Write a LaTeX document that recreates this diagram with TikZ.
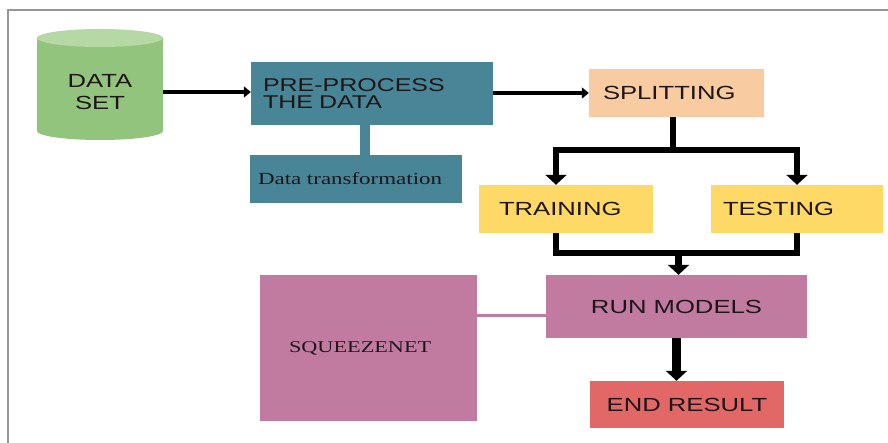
\documentclass[tikz,border=0pt]{standalone}
\usepackage{fontspec}
\usepackage{tikz}
\usetikzlibrary{arrows.meta,positioning,calc}
\newfontfamily\flowsans[FakeStretch=1.35]{Liberation Sans}
\newfontfamily\flowserif[FakeStretch=1.35]{Liberation Serif}
\definecolor{framegray}{RGB}{150,150,150}
\definecolor{datagreen}{RGB}{146,196,125}
\definecolor{datagreenlt}{RGB}{182,216,164}
\definecolor{prepteal}{RGB}{72,133,150}
\definecolor{splitpeach}{RGB}{248,203,160}
\definecolor{trainyellow}{RGB}{255,217,102}
\definecolor{runmauve}{RGB}{194,123,160}
\definecolor{endred}{RGB}{226,104,104}
\definecolor{textdark}{RGB}{30,22,25}

\begin{document}
\begin{tikzpicture}[x=1pt,y=-1pt,
    flowbox/.style={inner ysep=0pt,text=textdark,
      font=\flowsans\fontsize{19}{22}\selectfont},
    thinarrow/.style={line width=3.5pt,-{Triangle[length=7pt,width=11pt]}},
    thickline/.style={line width=6.5pt},
    thickarrow/.style={line width=6.5pt,-{Triangle[length=10pt,width=21pt]}}]
  \useasboundingbox (0,0) rectangle (888,443);
  % --- frame (only top and left edges are in view) ---
  \draw[framegray,line width=2.5pt] (8,443) -- (8,10) -- (888,10);
  % --- data set cylinder: rx=63, ry=9 ---
  \fill[datagreen] (37,38) -- (37,131)
    arc[start angle=180,end angle=360,x radius=63pt,y radius=9pt] -- (163,38) -- cycle;
  \fill[datagreenlt] (100,38) ellipse[x radius=63pt,y radius=9pt];
  \node[flowbox,align=center,minimum width=126pt,inner xsep=0pt] (dataset)
        at (100,92) {DATA\\SET};
  % --- boxes, placed at their centres ---
  \node[flowbox,fill=prepteal,minimum height=63pt,text width=218pt,
        inner xsep=12pt,align=left,font=\flowsans\fontsize{18.5}{17}\selectfont] (prep)
        at (372,93.5) {PRE-PROCESS\\THE DATA};
  \node[flowbox,fill=prepteal,minimum height=48pt,text width=196pt,
        inner xsep=8pt,align=left,font=\flowserif\fontsize{17}{20}\selectfont] (datat)
        at (356,179) {Data transformation};
  \node[flowbox,fill=splitpeach,minimum height=48pt,text width=147pt,
        inner xsep=14pt,align=left] (split) at (676.5,93) {SPLITTING};
  \node[flowbox,fill=trainyellow,minimum height=48pt,text width=134pt,
        inner xsep=20pt,align=left] (train) at (566,209) {TRAINING};
  \node[flowbox,fill=trainyellow,minimum height=48pt,text width=148pt,
        inner xsep=12pt,align=left] (test) at (797,209) {TESTING};
  \node[flowbox,fill=runmauve,minimum height=63pt,minimum width=261pt] (run)
        at (676.5,306.5) {RUN MODELS};
  \node[flowbox,fill=runmauve,minimum height=146pt,text width=159pt,
        inner xsep=29pt,align=left,font=\flowserif\fontsize{16.5}{20}\selectfont] (squeeze)
        at (368.5,348) {SQUEEZENET};
  \node[flowbox,fill=endred,minimum height=47pt,minimum width=194pt] (endr)
        at (687,404.5) {END RESULT};
  % --- connectors ---
  \draw[thinarrow] (dataset.east) -- (prep.west |- dataset.east);
  \draw[thinarrow] (prep.east |- split.west) -- (split.west);
  \draw[prepteal,line width=10pt] ([xshift=-7pt]prep.south)
        -- ([xshift=-7pt]prep.south |- datat.north);
  % split into training / testing
  \draw[thickline] ([xshift=-3.5pt]split.south) -- ++(0,33) coordinate (forkc);
  \draw[thickarrow] (forkc) -| ([xshift=-10pt]train.north);
  \draw[thickarrow] (forkc) -| (test.north);
  % merge into run models
  \draw[thickline] ([xshift=-10pt]train.south) -- ++(0,20) coordinate (mergel)
        -| (test.south);
  \draw[thickarrow] ([xshift=2pt]mergel -| run.north) -- ([xshift=2pt]run.north);
  \draw[thickarrow,line width=9pt] (run.south) -- (run.south |- endr.north);
  \coordinate (runlink) at ([yshift=-9.5pt]run.west);
  \draw[runmauve,line width=3pt] (runlink) -- (squeeze.east |- runlink);
\end{tikzpicture}
\end{document}
